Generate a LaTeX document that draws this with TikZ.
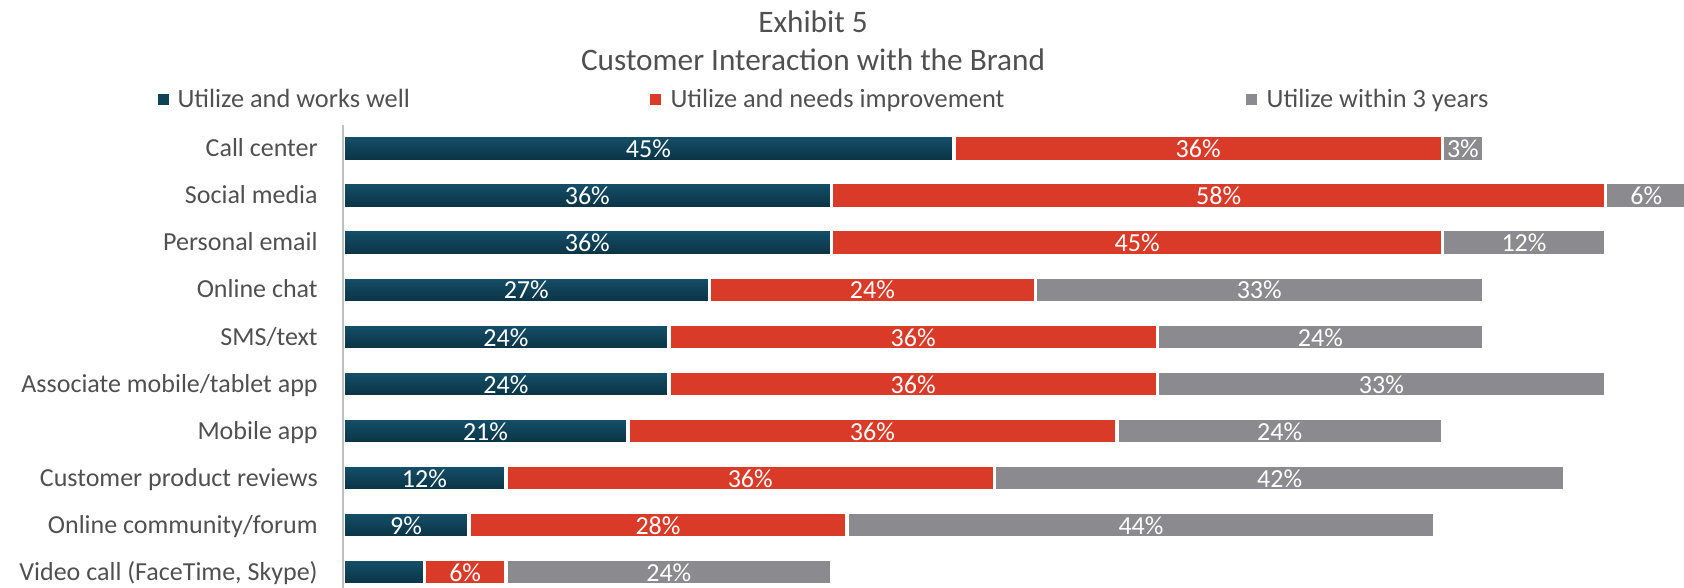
\documentclass[tikz,border=0pt]{standalone}
\usepackage{fontspec}
\setmainfont{Carlito}
\definecolor{welltop}{HTML}{15516A}
\definecolor{wellbot}{HTML}{0A3143}
\definecolor{wellkey}{HTML}{0F4254}
\definecolor{needred}{HTML}{D93B28}
\definecolor{soongray}{HTML}{8B8B8F}
\definecolor{labelgray}{HTML}{505050}
\definecolor{axisgray}{HTML}{BFBFBF}

\begin{document}
\begin{tikzpicture}[x=0.02cm, y=-0.02cm,
    wellbar/.style={top color=welltop, bottom color=wellbot, draw=white, line width=0.07cm},
    needbar/.style={fill=needred, draw=white, line width=0.07cm},
    soonbar/.style={fill=soongray, draw=white, line width=0.07cm},
    valtext/.style={text=white, anchor=base, inner sep=0pt, font=\fontsize{14.8}{16}\selectfont},
    cattext/.style={text=labelgray, anchor=base east, inner sep=0pt, font=\fontsize{14.8}{16}\selectfont},
    legtext/.style={text=labelgray, anchor=base west, inner sep=0pt, font=\fontsize{15}{16}\selectfont},
    legkey/.style={minimum size=0.215cm, inner sep=0pt},
    titletext/.style={text=labelgray, anchor=base, inner sep=0pt, font=\fontsize{17.8}{20}\selectfont}]
    \useasboundingbox (0,0) rectangle (1684,588);

    % title
    \node[titletext] (exhibit) at (813,32.3) {Exhibit 5};
    \node[titletext] (chartname) at (813,71) {Customer Interaction with the Brand};

    % legend
    \node[legkey, fill=wellkey] (keywell) at (163.8,99.3) {};
    \node[legtext] (legwell) at (177.2,107.3) {Utilize and works well};
    \node[legkey, fill=needred] (keyneed) at (655.2,99.3) {};
    \node[legtext] (legneed) at (670.2,107.3) {Utilize and needs improvement};
    \node[legkey, fill=soongray] (keysoon) at (1251.2,99.3) {};
    \node[legtext] (legsoon) at (1266.3,107.3) {Utilize within 3 years};

    % bars
    \foreach \cat/\a/\b/\c/\la/\lb/\lc [count=\i from 0] in {
        Call center/45.45/36.36/3.03/45/36/3,
        Social media/36.36/57.58/6.06/36/58/6,
        Personal email/36.36/45.45/12.12/36/45/12,
        Online chat/27.27/24.24/33.33/27/24/33,
        {SMS/text}/24.24/36.36/24.24/24/36/24,
        {Associate mobile/tablet app}/24.24/36.36/33.33/24/36/33,
        Mobile app/21.21/36.36/24.24/21/36/24,
        Customer product reviews/12.12/36.36/42.42/12/36/42,
        {Online community/forum}/9.375/28.125/43.75/9/28/44,
        {Video call (FaceTime, Skype)}/6.06/6.06/24.24//6/24}
    {
        \pgfmathsetmacro\yc{148.5+47.08*\i}
        \pgfmathsetmacro\xa{343+13.44*\a}
        \pgfmathsetmacro\xb{\xa+13.44*\b}
        \pgfmathsetmacro\xc{\xb+13.44*\c}
        \node[cattext] (cat\i) at (318,\yc+8.2) {\cat};
        \draw[wellbar] (343,\yc-12.95) rectangle (\xa,\yc+12.95);
        \draw[needbar] (\xa,\yc-12.95) rectangle (\xb,\yc+12.95);
        \draw[soonbar] (\xb,\yc-12.95) rectangle (\xc,\yc+12.95);
        \node[valtext] (well\i) at ({(343+\xa)/2},\yc+9.2) {\ifx\la\empty\else\la\%\fi};
        \node[valtext] (need\i) at ({(\xa+\xb)/2},\yc+9.2) {\lb\%};
        \node[valtext] (soon\i) at ({(\xb+\xc)/2},\yc+9.2) {\lc\%};
    }

    % axis
    \coordinate (axtop) at (343,125);
    \coordinate (axbot) at (343,588);
    \draw[axisgray, line width=0.04cm] (axtop) -- (axbot);
\end{tikzpicture}
\end{document}
